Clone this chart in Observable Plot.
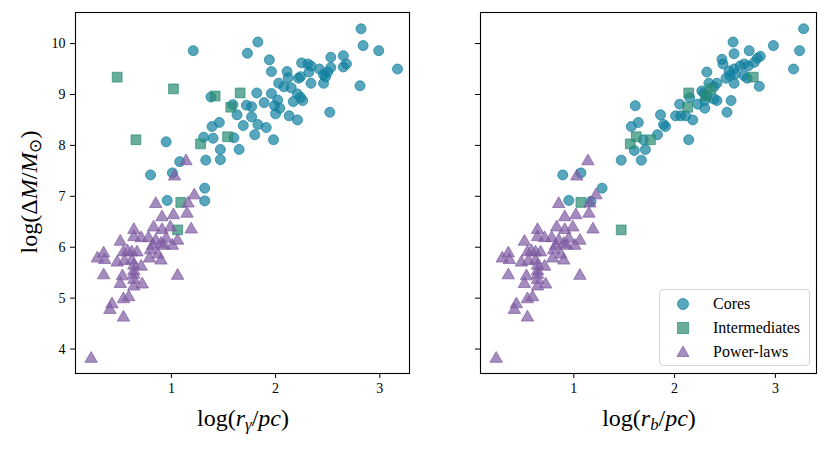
<!DOCTYPE html>
<html><head><meta charset="utf-8">
<script src="https://cdn.jsdelivr.net/npm/d3@7"></script>
<script src="https://cdn.jsdelivr.net/npm/@observablehq/plot@0.6"></script>
<style>
body{margin:0;background:#fff;}
#wrap{position:relative;width:830px;height:451px;font-family:"Liberation Serif",serif !important;color:#000;}
#wrap *{font-family:"Liberation Serif",serif !important;}
#wrap svg text{font-size:14px !important;fill:#000;}
.panel{position:absolute;top:0;}
.lab{position:absolute;white-space:nowrap;font-size:24px;line-height:1;}
.lab sub{font-size:0.7em;vertical-align:-0.25em;line-height:0;}
#legend{position:absolute;left:659px;top:289px;width:149px;height:75px;border:1px solid #d4d4d4;border-radius:4px;background:rgba(255,255,255,0.85);font-size:16px;}
.row{position:absolute;left:0;height:20px;}
.row svg{position:absolute;left:13px;top:0;}
.row span{position:absolute;left:53px;top:1px;white-space:nowrap;line-height:18px;}
</style></head><body><div id="wrap"></div>
<script>
// ---- data ----
const seriesNames = ["Cores", "Intermediates", "Power-laws"];
const seriesColors = ["#11809f", "#2a8b72", "#7f5ba2"];

const coreRgX = [2.82,2.84,2.99,3.17,2.81,1.83,1.21,1.73,1.94,1.96,2.11,2.25,2.31,2.34,2.42,2.53,2.65,2.68,2.65,2.53,2.50,2.46,2.48,2.32,2.24,2.22,2.12,2.03,2.08,2.15,2.34,2.46,1.82,1.96,2.02,1.89,1.99,2.04,2.21,2.24,2.26,2.17,2.00,2.13,2.21,2.52,1.38,1.59,1.72,1.77,1.63,1.77,1.46,1.39,1.69,1.83,1.91,1.80,1.98,1.31,1.40,1.60,0.95,1.47,1.65,1.33,1.47,1.08,0.80,1.01,1.32,0.96,1.32];
const coreRgY = [10.29,9.96,9.86,9.50,9.17,10.03,9.86,9.81,9.68,9.45,9.45,9.62,9.60,9.56,9.50,9.73,9.76,9.60,9.54,9.53,9.44,9.39,9.35,9.44,9.35,9.32,9.33,9.22,9.15,9.13,9.22,9.22,9.03,9.02,8.89,8.84,8.78,8.73,9.01,8.94,8.88,8.86,8.62,8.58,8.50,8.65,8.95,8.80,8.79,8.76,8.60,8.56,8.45,8.37,8.39,8.41,8.35,8.21,8.11,8.16,8.14,8.15,8.07,7.92,7.92,7.71,7.72,7.68,7.42,7.46,7.16,6.92,6.91];

const coreRbX = [3.28,3.24,3.18,2.98,2.58,2.59,2.74,2.85,2.82,2.47,2.48,2.32,2.54,2.59,2.65,2.69,2.73,2.79,2.51,2.55,2.60,2.69,2.72,2.84,2.59,2.34,2.42,2.29,2.32,2.39,2.15,2.23,2.30,2.42,2.56,2.52,2.05,2.01,2.06,2.11,2.18,1.86,1.61,1.64,1.57,1.89,1.91,1.83,2.14,1.69,1.60,1.71,1.47,1.67,1.07,0.89,1.28,0.95,1.17,2.39,2.27,2.30];
const coreRbY = [10.29,9.86,9.50,9.96,10.03,9.80,9.86,9.75,9.71,9.69,9.60,9.44,9.46,9.50,9.56,9.60,9.56,9.63,9.32,9.37,9.40,9.37,9.32,9.16,9.22,9.22,9.22,9.03,8.98,8.91,8.94,8.81,8.73,8.88,8.88,8.65,8.81,8.58,8.58,8.58,8.50,8.60,8.78,8.45,8.37,8.41,8.37,8.21,8.11,8.11,7.90,7.92,7.71,7.71,7.46,7.42,7.16,6.92,6.90,9.15,9.07,8.88];

const interY   = [9.34,9.11,8.97,9.03,8.75,8.11,8.03,8.17,6.88,6.34];
const interRgX = [0.48,1.02,1.42,1.66,1.57,0.66,1.28,1.54,1.09,1.06];
const interRbX = [2.78,2.36,2.31,2.14,2.13,1.76,1.56,1.62,1.07,1.47];

const powerX = [1.14,1.03,1.22,0.85,1.16,1.15,0.91,1.02,0.83,0.64,0.91,0.99,1.19,0.64,0.71,0.78,0.51,0.85,0.95,1.06,0.82,0.90,0.93,1.01,0.54,0.67,0.58,0.35,0.29,0.36,0.48,0.55,0.62,0.64,0.71,0.80,0.79,0.87,0.90,0.35,1.06,0.53,0.51,0.64,0.64,0.72,0.64,0.54,0.59,0.43,0.41,0.54,0.23,0.62,0.64];
const powerY = [7.69,7.39,7.02,6.85,6.86,6.66,6.59,6.63,6.39,6.34,6.34,6.39,6.35,6.20,6.18,6.18,6.11,6.13,6.17,6.13,6.03,6.07,6.03,6.03,5.90,5.90,5.92,5.88,5.78,5.75,5.70,5.73,5.74,5.64,5.62,5.94,5.78,5.86,5.74,5.45,5.44,5.43,5.28,5.46,5.36,5.27,5.23,4.98,5.02,4.88,4.77,4.62,3.81,5.90,5.53];

const xTicks = [1, 2, 3];
const yTicks = [4, 5, 6, 7, 8, 9, 10];

// ---- build ----
const zip = (xs, ys) => xs.map((x, i) => ({x, y: ys[i]}));
const wrap = document.getElementById("wrap");

function dots(data, symbol, r, color) {
  return Plot.dot(data, {x: "x", y: "y", symbol, r, fill: color, fillOpacity: 0.7,
    stroke: color, strokeOpacity: 0.7, strokeWidth: 1});
}

function panel(opts) {
  return Plot.plot({
    width: opts.width, height: 451,
    marginLeft: opts.ml, marginRight: opts.mr, marginTop: 12, marginBottom: 78,
    style: {fontFamily: "'Liberation Serif', serif", fontSize: "14px", color: "#000", background: "transparent", overflow: "visible"},
    x: {domain: opts.xdom},
    y: {domain: [3.52, 10.61]},
    marks: [
      Plot.axisX({ticks: xTicks, tickSize: 5, tickPadding: 5, label: null, stroke: "#000", strokeWidth: 1,
        tickFormat: d => String(d)}),
      Plot.axisY({ticks: yTicks, tickSize: 5, tickPadding: 5, label: null, stroke: "#000", strokeWidth: 1,
        tickFormat: opts.ylabels ? (d => String(d)) : (() => "")}),
      dots(opts.cores, "circle", 5, seriesColors[0]),
      dots(opts.inter, "square", 5.5, seriesColors[1]),
      dots(opts.power, "triangle", 4.6, seriesColors[2]),
      Plot.frame({stroke: "#000", strokeWidth: 1.1})
    ]
  });
}

const left = panel({width: 412, ml: 75, mr: 3, xdom: [0.08, 3.285], ylabels: true,
  cores: zip(coreRgX, coreRgY), inter: zip(interRgX, interY), power: zip(powerX, powerY)});
left.classList.add("panel"); left.style.left = "0px";
wrap.appendChild(left);

const right = panel({width: 380, ml: 30, mr: 14, xdom: [0.074, 3.408], ylabels: false,
  cores: zip(coreRbX, coreRbY), inter: zip(interRbX, interY), power: zip(powerX, powerY)});
right.classList.add("panel"); right.style.left = "450px";
wrap.appendChild(right);

// axis labels
function addLabel(html, cx, cy, rotate) {
  const d = document.createElement("div");
  d.className = "lab";
  d.innerHTML = html;
  d.style.left = cx + "px";
  d.style.top = cy + "px";
  d.style.transform = "translate(-50%,-50%)" + (rotate ? " rotate(-90deg)" : "");
  wrap.appendChild(d);
}
addLabel("log(<i>r</i><sub><i>γ</i></sub>/<i>pc</i>)", 243, 418, false);
addLabel("log(<i>r</i><sub><i>b</i></sub>/<i>pc</i>)", 649, 418, false);
addLabel("log(Δ<i>M</i>/<i>M</i><sub>⊙</sub>)", 29, 192, true);

// legend
const lg = document.createElement("div");
lg.id = "legend";
const shapes = [
  c => `<circle cx="10" cy="10" r="5.5" fill="${c}" fill-opacity="0.7" stroke="${c}" stroke-opacity="0.7"/>`,
  c => `<rect x="4.5" y="4.5" width="11" height="11" fill="${c}" fill-opacity="0.7" stroke="${c}" stroke-opacity="0.7"/>`,
  c => `<path d="M10,4 L16,14.5 L4,14.5 Z" fill="${c}" fill-opacity="0.7" stroke="${c}" stroke-opacity="0.7"/>`
];
seriesNames.forEach((name, i) => {
  const row = document.createElement("div");
  row.className = "row";
  row.style.top = (4 + i * 24) + "px";
  row.innerHTML = `<svg width="20" height="20">${shapes[i](seriesColors[i])}</svg><span>${name}</span>`;
  lg.appendChild(row);
});
wrap.appendChild(lg);
</script></body></html>
